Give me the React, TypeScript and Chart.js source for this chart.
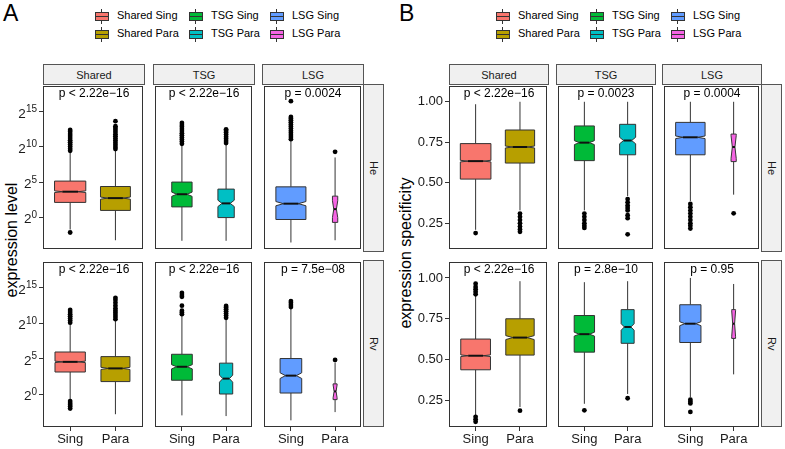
import React, { useEffect, useRef } from 'react';
import { Chart, registerables } from 'chart.js';

Chart.register(...registerables);

const FONT = "'Liberation Sans', Arial, Helvetica, sans-serif";

// ---------- categories / labels ----------
const groups = ['Shared', 'TSG', 'LSG'];
const rowNames = ['He', 'Rv'];
const xLabels = ['Sing', 'Para'];
const legendRows = [
  ['Shared Sing', 'TSG Sing', 'LSG Sing'],
  ['Shared Para', 'TSG Para', 'LSG Para'],
];
// order: Shared Sing, Shared Para, TSG Sing, TSG Para, LSG Sing, LSG Para
const boxColors = ['#F8766D', '#B79F00', '#00BA38', '#00BFC4', '#619CFF', '#F564E3'];
const legendColors = [
  ['#F8766D', '#00BA38', '#619CFF'],
  ['#B79F00', '#00BFC4', '#F564E3'],
];

// ---------- Panel A: expression level (log2 units) ----------
// each box: [lower whisker, Q1, median, Q3, upper whisker]
const levelHeBoxes = [
  [-1.75, 2.11, 3.63, 5.14, 9.24],
  [-3.27, 0.97, 2.72, 4.37, 9.5],
  [-3.35, 1.47, 3.27, 5.0, 10.2],
  [-3.35, -0.05, 1.97, 4.0, 10.35],
  [-3.59, -0.32, 1.93, 4.32, 10.9],
  [-3.27, -0.73, 1.15, 3.0, 8.5],
];
const levelHeOutliers = [
  [-2.17, 9.45, 9.75, 10.05, 10.35, 10.65, 10.95, 11.25, 11.55, 11.85, 12.15, 12.4],
  [9.7, 10.0, 10.3, 10.6, 10.9, 11.2, 11.5, 11.8, 12.1, 12.4, 12.7, 12.95, 13.66],
  [10.45, 10.75, 11.05, 11.35, 11.65, 11.95, 12.25, 12.55, 12.85, 13.1, 13.4],
  [10.55, 10.85, 11.15, 11.45, 11.75, 12.05, 12.3, 12.5],
  [11.1, 11.4, 11.7, 12.0, 12.3, 12.6, 12.9, 13.2, 13.5, 13.8, 14.05, 14.25, 16.5],
  [9.3],
];
const levelRvBoxes = [
  [-0.74, 3.15, 4.58, 5.97, 9.9],
  [-2.8, 1.8, 3.66, 5.32, 10.4],
  [-2.96, 1.99, 3.89, 5.65, 11.07],
  [-3.06, 0.05, 2.22, 4.4, 10.6],
  [-3.66, 0.19, 2.64, 5.05, 12.1],
  [-2.5, -0.74, 0.42, 1.48, 4.5],
];
const levelRvOutliers = [
  [-0.95, -1.2, -1.45, -1.7, -2.0, 10.1, 10.4, 10.7, 11.0, 11.3, 11.6, 11.9],
  [10.6, 10.9, 11.2, 11.5, 11.8, 12.1, 12.5, 12.9, 13.3, 13.6],
  [11.3, 11.55, 11.8, 12.5, 13.75, 14.0, 14.3],
  [10.8, 11.1, 11.4, 11.7, 12.0, 12.25, 12.46],
  [12.3, 12.6, 12.9, 13.15],
  [4.85],
];
const levelHeNotch = [0.12, 0.15, 0.3, 0.45, 0.3, 1.2];
const levelRvNotch = [0.1, 0.15, 0.3, 0.5, 0.4, 0.9];
const levelPHe = ['p < 2.22e\u221216', 'p < 2.22e\u221216', 'p = 0.0024'];
const levelPRv = ['p < 2.22e\u221216', 'p < 2.22e\u221216', 'p = 7.5e\u221208'];
const levelTicks = [0, 5, 10, 15];
const levelTickBase = '2';
const levelTickExps = ['0', '5', '10', '15'];

// ---------- Panel B: expression specificity ----------
const specHeBoxes = [
  [0.21, 0.523, 0.634, 0.742, 0.985],
  [0.33, 0.622, 0.721, 0.826, 1.0],
  [0.33, 0.637, 0.748, 0.851, 1.0],
  [0.418, 0.673, 0.761, 0.861, 1.0],
  [0.388, 0.673, 0.781, 0.873, 1.0],
  [0.427, 0.631, 0.721, 0.801, 1.0],
];
const specHeOutliers = [
  [0.19],
  [0.31, 0.29, 0.27, 0.25, 0.23, 0.212, 0.198],
  [0.31, 0.29, 0.27, 0.25, 0.235, 0.222],
  [0.4, 0.38, 0.36, 0.345, 0.33, 0.3, 0.282, 0.182],
  [0.37, 0.35, 0.33, 0.31, 0.29, 0.27, 0.25, 0.235, 0.218],
  [0.312],
];
const specRvBoxes = [
  [0.16, 0.438, 0.524, 0.626, 0.89],
  [0.21, 0.528, 0.635, 0.75, 0.98],
  [0.23, 0.546, 0.656, 0.77, 0.974],
  [0.29, 0.6, 0.7, 0.806, 0.98],
  [0.27, 0.605, 0.72, 0.836, 1.0],
  [0.41, 0.63, 0.72, 0.806, 0.963],
];
const specRvOutliers = [
  [0.9, 0.915, 0.93, 0.945, 0.965, 0.15, 0.135, 0.12],
  [0.188],
  [0.19],
  [0.264],
  [0.255, 0.243, 0.232, 0.18],
  [],
];
const specHeNotch = [0.005, 0.006, 0.012, 0.02, 0.008, 0.07];
const specRvNotch = [0.005, 0.012, 0.012, 0.02, 0.012, 0.08];
const specPHe = ['p < 2.22e\u221216', 'p = 0.0023', 'p = 0.0004'];
const specPRv = ['p < 2.22e\u221216', 'p = 2.8e\u221210', 'p = 0.95'];
const specTicks = [0.25, 0.5, 0.75, 1.0];
const specTickLabels = ['0.25', '0.50', '0.75', '1.00'];

// relative box widths (varwidth), in category units
const heWidths = [0.69, 0.66, 0.46, 0.37, 0.68, 0.12];
const rvWidths = [0.67, 0.64, 0.47, 0.3, 0.49, 0.09];

// ---------- layout ----------
const ROW_TOPS = [84, 260];
const ROW_HS = [168, 167];
const STRIP_TOP = 64;
const STRIP_H = 21;
const X_AXIS_H = 22;
const TICK_LEN = 4;
const TICK_PAD = 2;

const panels = [
  {
    tag: 'A', tagLeft: 3,
    colLefts: [43, 153, 262], colW: 102, yAxisW: 32,
    yMin: -4.6, yMax: 18.6, ticks: levelTicks, tickLabels: null as string[] | null,
    supBase: levelTickBase, supExps: levelTickExps as string[] | null,
    title: 'expression level', titleX: 12, titleY: 240,
    boxes: [levelHeBoxes, levelRvBoxes], outliers: [levelHeOutliers, levelRvOutliers],
    notches: [levelHeNotch, levelRvNotch], pvals: [levelPHe, levelPRv],
    legendTextLefts: [117, 211, 292],
  },
  {
    tag: 'B', tagLeft: 399,
    colLefts: [449, 556, 662], colW: 100, yAxisW: 36,
    yMin: 0.088, yMax: 1.095, ticks: specTicks, tickLabels: specTickLabels as string[] | null,
    supBase: '', supExps: null as string[] | null,
    title: 'expression specificity', titleX: 406, titleY: 253,
    boxes: [specHeBoxes, specRvBoxes], outliers: [specHeOutliers, specRvOutliers],
    notches: [specHeNotch, specRvNotch], pvals: [specPHe, specPRv],
    legendTextLefts: [518, 612, 693],
  },
];

const boxPlugin = {
  id: 'boxes',
  beforeDatasetsDraw(chart: any, _args: any, opts: any) {
    const { ctx } = chart;
    const xs = chart.scales.x;
    const ys = chart.scales.y;
    ctx.save();
    (opts.items || []).forEach((b: any) => {
      const cx = xs.getPixelForValue(b.x);
      const hw = Math.abs(xs.getPixelForValue(b.x + b.w / 2) - cx);
      const [lo, q1, md, q3, hi] = b.s.map((v: number) => ys.getPixelForValue(v));
      const nU = ys.getPixelForValue(b.s[2] + b.n);
      const nD = ys.getPixelForValue(b.s[2] - b.n);
      const ind = hw / 2;
      ctx.strokeStyle = '#333333';
      ctx.lineWidth = 1;
      ctx.beginPath();
      ctx.moveTo(cx, hi);
      ctx.lineTo(cx, q3);
      ctx.moveTo(cx, q1);
      ctx.lineTo(cx, lo);
      ctx.stroke();
      ctx.beginPath();
      ctx.moveTo(cx - hw, q3);
      ctx.lineTo(cx - hw, nU);
      ctx.lineTo(cx - hw + ind, md);
      ctx.lineTo(cx - hw, nD);
      ctx.lineTo(cx - hw, q1);
      ctx.lineTo(cx + hw, q1);
      ctx.lineTo(cx + hw, nD);
      ctx.lineTo(cx + hw - ind, md);
      ctx.lineTo(cx + hw, nU);
      ctx.lineTo(cx + hw, q3);
      ctx.closePath();
      ctx.fillStyle = b.c;
      ctx.fill();
      ctx.stroke();
      ctx.strokeStyle = '#111111';
      ctx.lineWidth = 2;
      ctx.beginPath();
      ctx.moveTo(cx - hw + ind, md);
      ctx.lineTo(cx + hw - ind, md);
      ctx.stroke();
    });
    ctx.restore();
  },
  afterDraw(chart: any, _args: any, opts: any) {
    const { ctx, chartArea: a } = chart;
    ctx.save();
    ctx.strokeStyle = '#333333';
    ctx.lineWidth = 1;
    ctx.strokeRect(Math.round(a.left) + 0.5, Math.round(a.top) + 0.5, Math.round(a.right - a.left) - 1, Math.round(a.bottom - a.top) - 1);
    // superscript tick labels (power notation) placed at the y scale's own tick positions
    const ys = chart.scales.y;
    if (opts.supExps && ys.options.display) {
      const right = a.left - TICK_LEN - TICK_PAD;
      ctx.fillStyle = '#1a1a1a';
      ctx.textAlign = 'left';
      ctx.textBaseline = 'alphabetic';
      ys.ticks.forEach((t: any, i: number) => {
        const y = ys.getPixelForValue(t.value);
        const exp = opts.supExps[i];
        ctx.font = `10px ${FONT}`;
        const ew = ctx.measureText(exp).width;
        ctx.fillText(exp, right - ew, y + 0.5);
        ctx.font = `13.5px ${FONT}`;
        const bw = ctx.measureText(opts.supBase).width;
        ctx.fillText(opts.supBase, right - ew - bw, y + 5.8);
      });
    }
    ctx.restore();
  },
};

type FacetProps = {
  left: number; top: number; width: number; height: number;
  showY: boolean; showX: boolean; yAxisW: number;
  yMin: number; yMax: number; ticks: number[]; tickLabels: string[] | null;
  supBase: string; supExps: string[] | null;
  boxes: number[][]; outliers: number[][]; notches: number[]; widths: number[]; colors: string[];
};

function Facet(p: FacetProps) {
  const ref = useRef<HTMLCanvasElement>(null);
  useEffect(() => {
    const points: { x: number; y: number }[] = [];
    p.outliers.forEach((arr, i) => arr.forEach((v) => points.push({ x: i, y: v })));
    const items = p.boxes.map((s, i) => ({ x: i, s, w: p.widths[i], n: p.notches[i], c: p.colors[i] }));
    const chart = new Chart(ref.current as HTMLCanvasElement, {
      type: 'scatter',
      data: {
        datasets: [
          {
            data: points,
            pointRadius: 2.4,
            pointHoverRadius: 2.4,
            pointBackgroundColor: '#000000',
            pointBorderWidth: 0,
          } as any,
        ],
      },
      options: {
        responsive: true,
        maintainAspectRatio: false,
        animation: false,
        events: [],
        layout: { padding: 0 },
        plugins: {
          legend: { display: false },
          tooltip: { enabled: false },
          boxes: { items, supBase: p.supBase, supExps: p.supExps },
        } as any,
        scales: {
          x: {
            type: 'linear',
            min: -0.6,
            max: 1.6,
            display: p.showX,
            afterBuildTicks: (s: any) => { s.ticks = [0, 1].map((v) => ({ value: v })); },
            afterFit: (s: any) => { s.height = p.showX ? X_AXIS_H : 0; s.paddingLeft = 0; s.paddingRight = 0; },
            ticks: {
              callback: (v: any) => xLabels[Math.round(Number(v))],
              font: { family: FONT, size: 13 },
              color: '#1a1a1a',
              padding: 1,
              maxRotation: 0,
              autoSkip: false,
            },
            grid: { display: true, drawOnChartArea: false, drawTicks: true, tickLength: TICK_LEN, color: '#333333', lineWidth: 1 },
            border: { display: false },
          } as any,
          y: {
            type: 'linear',
            min: p.yMin,
            max: p.yMax,
            display: p.showY,
            afterBuildTicks: (s: any) => { s.ticks = p.ticks.map((v) => ({ value: v })); },
            afterFit: (s: any) => { s.width = p.showY ? p.yAxisW : 0; s.paddingTop = 0; s.paddingBottom = 0; },
            ticks: {
              display: !!p.tickLabels,
              callback: (v: any) => {
                const i = p.ticks.findIndex((t) => Math.abs(t - Number(v)) < 1e-9);
                return i >= 0 && p.tickLabels ? p.tickLabels[i] : '';
              },
              font: { family: FONT, size: 13 },
              color: '#1a1a1a',
              padding: TICK_PAD,
              autoSkip: false,
            },
            grid: { display: true, drawOnChartArea: false, drawTicks: true, tickLength: TICK_LEN, color: '#333333', lineWidth: 1 },
            border: { display: false },
          } as any,
        },
      },
      plugins: [boxPlugin as any],
    });
    return () => chart.destroy();
  }, []);
  return (
    <div style={{ position: 'absolute', left: p.left, top: p.top, width: p.width, height: p.height }}>
      <canvas ref={ref} />
    </div>
  );
}

function LegendKey({ color, left, top }: { color: string; left: number; top: number }) {
  return (
    <div style={{ position: 'absolute', left, top, width: 17, height: 17 }}>
      <div style={{ position: 'absolute', left: 8, top: 1, width: 1, height: 15, background: '#333' }} />
      <div style={{ position: 'absolute', left: 1.5, top: 4.5, width: 14, height: 9, background: color, border: '1px solid #333', boxSizing: 'border-box' }} />
      <div style={{ position: 'absolute', left: 1.5, top: 8.5, width: 14, height: 1, background: '#333' }} />
    </div>
  );
}

export default function App() {
  const els: React.ReactNode[] = [];
  panels.forEach((P, pi) => {
    // panel tag
    els.push(
      <div key={`tag${pi}`} style={{ position: 'absolute', left: P.tagLeft, top: 2, fontSize: 23, lineHeight: '23px', color: '#000' }}>
        {P.tag}
      </div>
    );
    // legend
    legendRows.forEach((row, r) => {
      const cy = 16 + r * 18.3;
      row.forEach((lab, c) => {
        const tl = P.legendTextLefts[c];
        els.push(<LegendKey key={`lk${pi}${r}${c}`} color={legendColors[r][c]} left={tl - 24} top={cy - 8.5} />);
        els.push(
          <div key={`lt${pi}${r}${c}`} style={{ position: 'absolute', left: tl, top: cy - 6, fontSize: 11, lineHeight: '11px', color: '#000', whiteSpace: 'nowrap' }}>
            {lab}
          </div>
        );
      });
    });
    // y title
    els.push(
      <div key={`yt${pi}`} style={{ position: 'absolute', left: P.titleX - 100, top: P.titleY - 9, width: 200, height: 18, lineHeight: '18px', fontSize: 16, textAlign: 'center', transform: 'rotate(-90deg)', color: '#000', whiteSpace: 'nowrap' }}>
        {P.title}
      </div>
    );
    // top strips
    groups.forEach((g, c) => {
      els.push(
        <div key={`st${pi}${c}`} style={{ position: 'absolute', left: P.colLefts[c], top: STRIP_TOP, width: P.colW, height: STRIP_H, boxSizing: 'border-box', border: '1px solid #555', background: '#f0f0f0', display: 'flex', alignItems: 'center', justifyContent: 'center', fontSize: 11, color: '#1a1a1a' }}>
          {g}
        </div>
      );
    });
    // right strips
    const rightX = P.colLefts[2] + P.colW - 1;
    rowNames.forEach((rn, r) => {
      els.push(
        <div key={`sr${pi}${r}`} style={{ position: 'absolute', left: rightX, top: ROW_TOPS[r], width: 21, height: ROW_HS[r], boxSizing: 'border-box', border: '1px solid #555', background: '#f0f0f0', display: 'flex', alignItems: 'center', justifyContent: 'center', fontSize: 11, color: '#1a1a1a' }}>
          <span style={{ writingMode: 'vertical-rl' as any }}>{rn}</span>
        </div>
      );
    });
    // facets
    rowNames.forEach((_rn, r) => {
      groups.forEach((_g, c) => {
        const showY = c === 0;
        const showX = r === 1;
        const left = P.colLefts[c] - (showY ? P.yAxisW : 0);
        const width = P.colW + (showY ? P.yAxisW : 0);
        const height = ROW_HS[r] + (showX ? X_AXIS_H : 0);
        const widths = r === 0 ? heWidths : rvWidths;
        els.push(
          <Facet
            key={`f${pi}${r}${c}`}
            left={left}
            top={ROW_TOPS[r]}
            width={width}
            height={height}
            showY={showY}
            showX={showX}
            yAxisW={P.yAxisW}
            yMin={P.yMin}
            yMax={P.yMax}
            ticks={P.ticks}
            tickLabels={P.tickLabels}
            supBase={P.supBase}
            supExps={P.supExps}
            boxes={P.boxes[r].slice(2 * c, 2 * c + 2)}
            outliers={P.outliers[r].slice(2 * c, 2 * c + 2)}
            notches={P.notches[r].slice(2 * c, 2 * c + 2)}
            widths={widths.slice(2 * c, 2 * c + 2)}
            colors={boxColors.slice(2 * c, 2 * c + 2)}
          />
        );
        els.push(
          <div key={`pv${pi}${r}${c}`} style={{ position: 'absolute', left: P.colLefts[c], top: ROW_TOPS[r] + 2.6, width: P.colW, textAlign: 'center', fontSize: 12, lineHeight: '12px', color: '#000', whiteSpace: 'nowrap' }}>
            {P.pvals[r][c]}
          </div>
        );
      });
    });
  });
  return (
    <div style={{ position: 'absolute', left: 0, top: 0, width: 785, height: 449, background: '#fff', fontFamily: FONT, overflow: 'hidden' }}>
      {els}
    </div>
  );
}
